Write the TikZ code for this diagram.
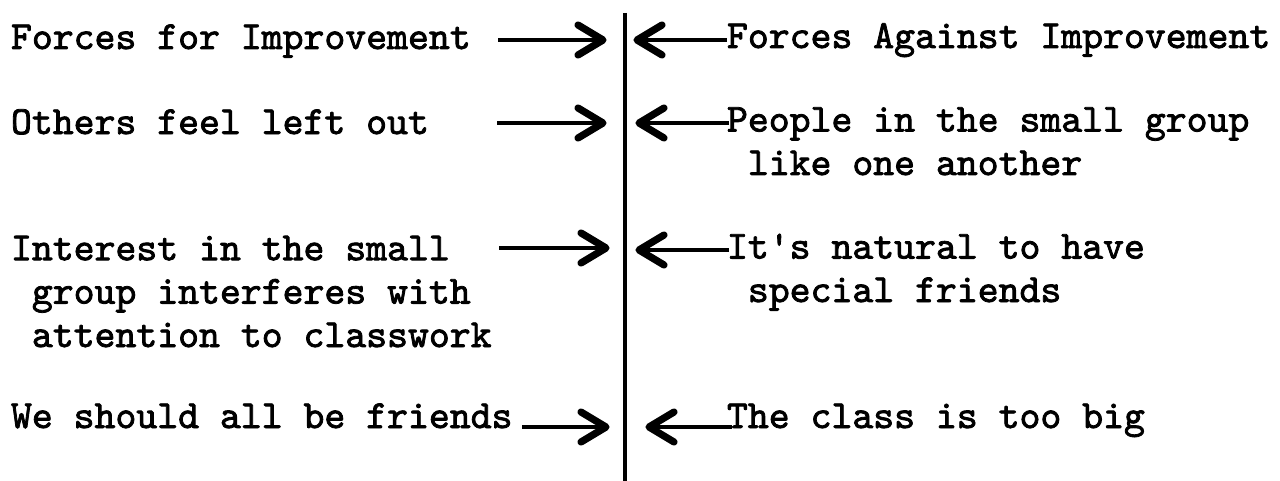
\documentclass[tikz,border=0pt]{standalone}
\usepackage{fontspec}
\newfontfamily\typew{lmmono10-regular.otf}[FakeBold=2]
\tikzset{
  lbl/.style={anchor=base west, inner sep=0pt, outer sep=0pt, align=left,
    font=\typew\fontsize{19.9pt}{21.7pt}\selectfont},
  force/.style={line width=2pt},
  chevron/.style={line width=3.6pt, line cap=round, line join=round},
  field/.style={line width=2.3pt}
}
\begin{document}
\begin{tikzpicture}[x=0.5pt, y=-0.5pt]
\useasboundingbox (0,0) rectangle (1280,481);
% central line
\coordinate (top) at (625,13);
\coordinate (bot) at (625,481);
\draw[field] (top) -- (bot);
% left side texts (multi-line nodes are placed at the baseline of their last line)
\node[lbl] (l1) at (11,49) {Forces for Improvement};
\node[lbl] (l2) at (11,134) {Others feel left out};
\node[lbl] (l3) at (11,347) {Interest in the small\\\hphantom{x}group interferes with\\\hphantom{x}attention to classwork};
\node[lbl] (l4) at (11,428) {We should all be friends};
% right side texts
\node[lbl] (r1) at (727,48) {Forces Against Improvement};
\node[lbl] (r2) at (727,175) {People in the small group\\\hphantom{x}like one another};
\node[lbl] (r3) at (727,302) {It's natural to have\\\hphantom{x}special friends};
\node[lbl] (r4) at (727,428) {The class is too big};
% arrow ends (tips)
\coordinate (a1s) at (498,40);  \coordinate (a1e) at (603,40);
\coordinate (a2s) at (497,123); \coordinate (a2e) at (603,123);
\coordinate (a3s) at (499,248); \coordinate (a3e) at (606,248);
\coordinate (a4s) at (522,427); \coordinate (a4e) at (606,427);
\coordinate (b1s) at (727,40);  \coordinate (b1e) at (637,40);
\coordinate (b2s) at (729,123); \coordinate (b2e) at (639,123);
\coordinate (b3s) at (729,250); \coordinate (b3e) at (639,250);
\coordinate (b4s) at (732,427); \coordinate (b4e) at (649,427);
\foreach \i in {1,2,3,4}{
  % forces for improvement: pointing right
  \draw[force] (a\i s) -- (a\i e);
  \draw[chevron] (a\i e) ++(-25,-15) -- (a\i e) -- ++(-25,15);
  % forces against improvement: pointing left
  \draw[force] (b\i s) -- (b\i e);
  \draw[chevron] (b\i e) ++(25,-15) -- (b\i e) -- ++(25,15);
}
\end{tikzpicture}
\end{document}
